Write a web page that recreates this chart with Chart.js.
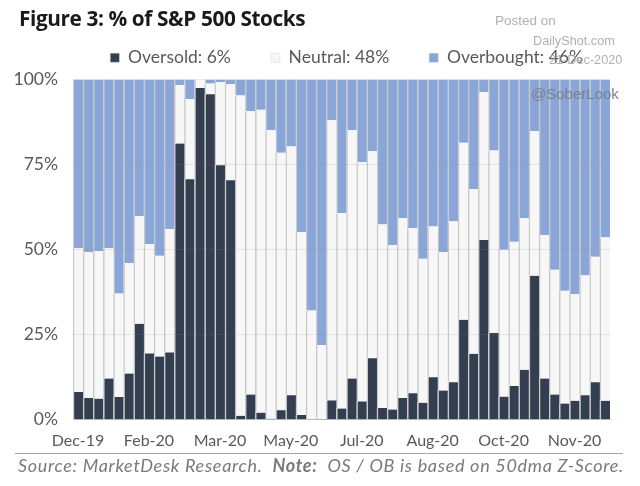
<!doctype html>
<html lang="en">
<head>
  <meta charset="utf-8">
  <title>Figure 3: % of S&amp;P 500 Stocks</title>
  <style>
    * { margin: 0; padding: 0; }
    body { width: 640px; height: 486px; background: white; overflow: hidden; position: relative; font-family: Lato, sans-serif; }
    #chartBox { position: absolute; left: 0; top: 0; width: 640px; height: 486px; }
    .txt { position: absolute; white-space: nowrap; }
    #title { left: 19px; top: 4px; font: bold 20.8px "Open Sans", sans-serif; color: #1a1a1a; letter-spacing: -0.4px; }
    .mark { color: #b0b0b0; font: 12.7px "Liberation Sans", sans-serif; }
    #rule { position: absolute; left: 15px; top: 453px; width: 608px; height: 1px; background: #a6a6a6; }
    #source { left: 18px; top: 454px; font: italic 18px Lato, sans-serif; color: #7a7a7a; letter-spacing: 0.7px; }
  </style>
</head>
<body>
<div id="chartBox"><canvas id="myChart"></canvas></div>
<div class="txt" id="title">Figure 3: % of S&amp;P 500 Stocks</div>
<div class="txt mark" style="left:495px;top:13px;font-size:13.5px">Posted on</div>
<div class="txt mark" style="left:533px;top:34px">DailyShot.com</div>
<div class="txt mark" style="left:549px;top:53px">21-Dec-2020</div>
<div class="txt mark" style="left:531px;top:85px;font-size:15px;color:#78808f">@SoberLook</div>
<div id="rule"></div>
<div class="txt" id="source">Source: MarketDesk Research.&nbsp; <b>Note:</b>&nbsp; OS / OB is based on 50dma Z-Score.</div>

<script src="https://cdn.jsdelivr.net/npm/chart.js"></script>
<script>
const months = ['Dec-19', '', '', '', '', '', '', 'Feb-20', '', '', '', '', '', '', 'Mar-20', '', '', '', '', '', '', 'May-20', '', '', '', '', '', '', 'Jul-20', '', '', '', '', '', '', 'Aug-20', '', '', '', '', '', '', 'Oct-20', '', '', '', '', '', '', 'Nov-20', '', '', ''];
const oversold = [8.2, 6.4, 6.2, 12.1, 6.7, 13.6, 28.2, 19.5, 18.6, 19.8, 81.2, 70.7, 97.5, 95.7, 74.8, 70.4, 1.2, 7.4, 2.1, 0.3, 2.8, 7.2, 1.4, 0.1, 0.2, 5.7, 3.3, 12.1, 5.4, 18.1, 3.5, 3, 6.4, 7.8, 5, 12.5, 8.6, 11, 29.4, 19.4, 52.8, 25.5, 6.8, 9.9, 14.7, 42.3, 12.1, 7.4, 4.8, 5.6, 7.2, 11, 5.6];
const neutral = [42.2, 42.8, 43.3, 38.3, 30.4, 32.4, 31.7, 32.1, 29.6, 36.3, 17.2, 23.6, 2.5, 3.1, 24.5, 28.3, 94.1, 83.3, 89, 84.8, 75.7, 73.1, 53.8, 32, 21.8, 82.3, 57.4, 73, 70.3, 60.9, 53.9, 48.4, 52.8, 48.5, 42.3, 44.3, 40.6, 47.3, 52, 48.4, 43.5, 53.6, 43.2, 42.4, 44.5, 42.6, 42.2, 36.7, 33.1, 31.4, 35.2, 36.9, 48];
const overbought = [49.6, 50.8, 50.5, 49.6, 62.9, 54, 40.1, 48.4, 51.8, 43.9, 1.6, 5.7, 0, 1.2, 0.7, 1.3, 4.7, 9.3, 8.9, 14.9, 21.5, 19.7, 44.8, 67.9, 78, 12, 39.3, 14.9, 24.3, 21, 42.6, 48.6, 40.8, 43.7, 52.7, 43.2, 50.8, 41.7, 18.6, 32.2, 3.7, 20.9, 50, 47.7, 40.8, 15.1, 45.7, 55.9, 62.1, 63, 57.6, 52.1, 46.4];
const yTicks = [0, 25, 50, 75, 100];

const edge = '#c9c9c9';
const bars = { barPercentage: 1, categoryPercentage: 1, borderColor: edge, borderWidth: { left: 1.5, right: 0, top: 0, bottom: 0 }, borderSkipped: false };

// the legend sits right of centre and a bit higher than chart.js puts it
const legendShift = {
  id: 'legendShift',
  afterLayout(chart) {
    chart.legend.left += 13;
    chart.legend.right += 13;
    chart.legend.top -= 3;
    chart.legend.bottom -= 3;
  }
};

new Chart(document.getElementById('myChart'), {
  type: 'bar',
  plugins: [legendShift],
  data: {
    labels: months,
    datasets: [
      { label: 'Oversold: 6%', data: oversold, backgroundColor: '#333f50', ...bars },
      { label: 'Neutral: 48%', data: neutral, backgroundColor: '#f7f7f7', ...bars },
      { label: 'Overbought: 46%', data: overbought, backgroundColor: '#8aa6d8', ...bars }
    ]
  },
  options: {
    responsive: true,
    maintainAspectRatio: false,
    animation: false,
    layout: { padding: { top: 12, right: 30, left: 0, bottom: 33 } },
    scales: {
      x: {
        stacked: true,
        grid: { display: false },
        border: { color: '#d0d0d0' },
        ticks: {
          autoSkip: false,
          maxRotation: 0,
          padding: 3,
          color: '#595959',
          font: { family: 'Lato', size: 16 },
          callback: (v, i) => months[i]
        }
      },
      y: {
        stacked: true,
        min: 0,
        max: 100,
        afterFit: (s) => { s.width = 73; },
        afterBuildTicks: (s) => { s.ticks = yTicks.map(v => ({ value: v })); },
        grid: { color: 'rgba(130,130,130,0.16)', drawTicks: false, z: 1 },
        border: { display: false },
        ticks: {
          padding: 15,
          color: '#595959',
          font: { family: 'Lato', size: 17.5 },
          callback: (v) => v + '%'
        }
      }
    },
    plugins: {
      tooltip: { enabled: false },
      legend: {
        position: 'top',
        align: 'end',
        labels: {
          boxWidth: 9,
          boxHeight: 9,
          padding: 40,
          color: '#595959',
          font: { family: 'Lato', size: 17.5 }
        }
      }
    }
  }
});
</script>
</body>
</html>
